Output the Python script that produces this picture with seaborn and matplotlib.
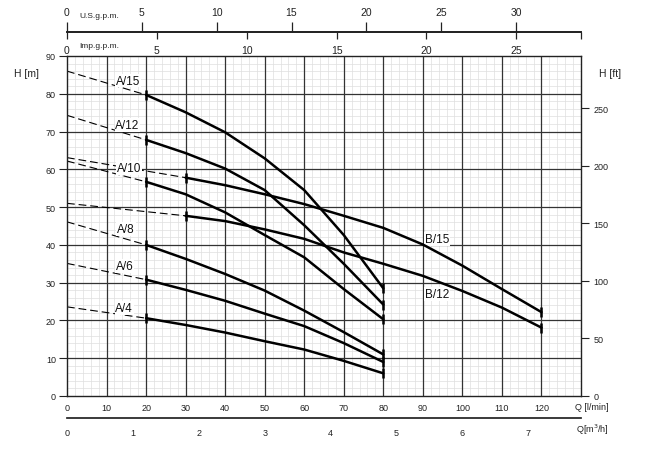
import matplotlib
matplotlib.use("Agg")
import matplotlib.pyplot as plt
import seaborn as sns
import pandas as pd
from matplotlib.ticker import MultipleLocator

sns.set_theme(style="white")
plt.rcParams['font.family'] = ['Liberation Sans', 'DejaVu Sans']

# ---------------- data ----------------
q_a = [20, 30, 40, 50, 60, 70, 80]          # l/min, A-series working range
h_a15 = [79.7, 75.1, 69.8, 62.9, 54.5, 42.6, 28.5]
h_a12 = [67.8, 64.3, 60.2, 54.5, 45.2, 35.0, 24.2]
h_a10 = [56.7, 53.4, 48.6, 42.6, 36.7, 28.3, 20.3]
h_a8 = [40.0, 36.3, 32.3, 27.9, 22.6, 16.9, 11.0]
h_a6 = [30.8, 28.1, 25.2, 21.8, 18.5, 14.0, 9.0]
h_a4 = [20.6, 18.8, 16.8, 14.5, 12.3, 9.3, 6.0]

q_b = [30, 40, 50, 60, 70, 80, 90, 100, 110, 120]  # l/min, B-series working range
h_b15 = [57.8, 55.8, 53.4, 50.8, 47.7, 44.5, 40.1, 34.5, 28.3, 22.2]
h_b12 = [47.7, 46.3, 44.1, 41.6, 38.0, 35.0, 31.8, 27.8, 23.4, 18.1]

curve_names = ["A/15", "A/12", "A/10", "A/8", "A/6", "A/4", "B/15", "B/12"]
shutoff_h = [86.0, 74.3, 62.2, 46.1, 35.1, 23.6, 63.1, 51.0]   # head at Q = 0 (dashed part)

x_ticks = [0, 10, 20, 30, 40, 50, 60, 70, 80, 90, 100, 110, 120]
y_ticks_m = [0, 10, 20, 30, 40, 50, 60, 70, 80, 90]
y_ticks_ft = [0, 50, 100, 150, 200, 250]
usgpm_ticks = [0, 5, 10, 15, 20, 25, 30]
impgpm_ticks = [0, 5, 10, 15, 20, 25]
m3h_ticks = [0, 1, 2, 3, 4, 5, 6, 7]

curves_q = [q_a, q_a, q_a, q_a, q_a, q_a, q_b, q_b]
curves_h = [h_a15, h_a12, h_a10, h_a8, h_a6, h_a4, h_b15, h_b12]

# curve label anchor positions (l/min, m)
label_q = [15.4, 15.3, 15.6, 14.9, 14.6, 14.5, 93.6, 93.6]
label_h = [83.5, 71.8, 60.3, 44.2, 34.4, 23.3, 41.6, 27.0]

QMAX = 130
USGAL = 3.78541
IMPGAL = 4.54609
FT = 3.28084

# ---------------- tables ----------------
solid = pd.DataFrame([
    {"curve": n, "Q": q, "H": h}
    for n, qs, hs in zip(curve_names, curves_q, curves_h)
    for q, h in zip(qs, hs)
])
dashed = pd.DataFrame(
    [{"curve": n, "Q": 0, "H": h0} for n, h0 in zip(curve_names, shutoff_h)] +
    [{"curve": n, "Q": qs[0], "H": hs[0]} for n, qs, hs in zip(curve_names, curves_q, curves_h)]
)
ends = pd.DataFrame(
    [{"curve": n, "Q": qs[0], "H": hs[0]} for n, qs, hs in zip(curve_names, curves_q, curves_h)] +
    [{"curve": n, "Q": qs[-1], "H": hs[-1]} for n, qs, hs in zip(curve_names, curves_q, curves_h)]
)
black = {n: "black" for n in curve_names}

# ---------------- figure ----------------
W, H = 646, 464
fig = plt.figure(figsize=(W / 100, H / 100), dpi=100)
L, R, B, T = 67, 581, 397, 57
ax = fig.add_axes([L / W, 1 - B / H, (R - L) / W, (B - T) / H])
ax.set_xlim(0, QMAX)
ax.set_ylim(0, 90)

ax.set_xticks([0, 10, 20, 30, 40, 50, 60, 70, 80, 90, 100, 110, 120, 130])
ax.set_xticklabels([str(v) for v in x_ticks] + [""])
ax.set_yticks(y_ticks_m)
ax.xaxis.set_minor_locator(MultipleLocator(2))
ax.yaxis.set_minor_locator(MultipleLocator(2))
# light minor grid via the axis, dark major grid drawn above it
ax.grid(which="minor", color="#dedede", lw=0.5, linestyle="-")
ax.grid(which="major", visible=False)
ax.set_axisbelow(True)
for xv in x_ticks[1:]:
    ax.axvline(xv, color="#333333", lw=0.9, zorder=1.5)
for yv in y_ticks_m[1:-1]:
    ax.axhline(yv, color="#333333", lw=0.9, zorder=1.5)

ax.tick_params(axis="x", which="both", length=0, pad=5, labelsize=6.5, labelcolor="#222")
ax.tick_params(axis="y", which="major", length=6, width=0.8, direction="out",
               pad=2, labelsize=6.5, labelcolor="#222", left=True, color="#222")
ax.tick_params(axis="y", which="minor", length=0)
for s in ax.spines.values():
    s.set_color("#222")
    s.set_linewidth(1.0)
    s.set_zorder(6)

sns.lineplot(data=dashed, x="Q", y="H", hue="curve", palette=black, estimator=None,
             sort=False, legend=False, ax=ax, lw=0.8, linestyle=(0, (7, 3.5)), zorder=2)
sns.lineplot(data=solid, x="Q", y="H", hue="curve", palette=black, estimator=None,
             sort=False, legend=False, ax=ax, lw=1.8, zorder=4)
sns.scatterplot(data=ends, x="Q", y="H", color="black", marker="|", s=45,
                linewidth=1.8, legend=False, ax=ax, zorder=5)
ax.set_xlabel("")
ax.set_ylabel("")

for n, lq, lh in zip(curve_names, label_q, label_h):
    ax.text(lq, lh, n, ha="center", va="center", fontsize=8.5, color="#111", zorder=2.5,
            bbox=dict(facecolor="white", edgecolor="none", pad=0.6))

# right axis in feet
rax = ax.twinx()
rax.set_ylim(0, 90 * FT)
rax.set_yticks(y_ticks_ft)
rax.grid(False)
rax.tick_params(axis="y", length=6, width=0.8, direction="out", pad=3,
                labelsize=6.5, labelcolor="#222", right=True, color="#222")
for s in rax.spines.values():
    s.set_visible(False)

narrow = ['Liberation Sans Narrow', 'Liberation Sans', 'DejaVu Sans']

# top scale line (US gpm above, Imp gpm below)
ytop = 33
tax = fig.add_axes([L / W, 1 - ytop / H, (R - L) / W, 1e-6])
tax.set_xlim(0, QMAX / USGAL)
tax.patch.set_visible(False)
for k, s in tax.spines.items():
    s.set_visible(k == "top")
tax.spines["top"].set_color("#222")
tax.yaxis.set_visible(False)
tax.xaxis.set_ticks_position("top")
tax.set_xticks(usgpm_ticks)
tax.set_xticklabels([str(v) for v in usgpm_ticks], fontfamily=narrow)
tax.tick_params(axis="x", length=7, width=0.9, direction="out", pad=4,
                labelsize=7.5, labelcolor="#222", color="#222")

iax = fig.add_axes([L / W, 1 - ytop / H, (R - L) / W, 1e-6], label="imp")
iax.set_xlim(0, QMAX / IMPGAL)
iax.patch.set_visible(False)
for k, s in iax.spines.items():
    s.set_visible(k == "bottom")
iax.spines["bottom"].set_color("#222")
iax.yaxis.set_visible(False)
iax.xaxis.set_ticks_position("bottom")
iax.set_xticks(impgpm_ticks + [QMAX / IMPGAL])
iax.set_xticklabels([str(v) for v in impgpm_ticks] + [""], fontfamily=narrow)
iax.tick_params(axis="x", length=5, width=0.9, direction="out", pad=4,
                labelsize=7.5, labelcolor="#222", color="#222")

# bottom scale line (m3/h)
ybot = 419
bax = fig.add_axes([L / W, 1 - ybot / H, (R - L) / W, 1e-6])
bax.set_xlim(0, QMAX * 60 / 1000)
bax.patch.set_visible(False)
for k, s in bax.spines.items():
    s.set_visible(k == "bottom")
bax.spines["bottom"].set_color("#222")
bax.yaxis.set_visible(False)
bax.set_xticks(m3h_ticks + [QMAX * 60 / 1000])
bax.set_xticklabels([str(v) for v in m3h_ticks] + [""])
bax.tick_params(axis="x", length=4, width=0.9, direction="out", pad=3,
                labelsize=6.5, labelcolor="#222", color="#222")

# axis titles
fig.text(79 / W, 1 - 17 / H, "U.S.g.p.m.", fontsize=6, va="center", ha="left",
         color="#222", family=narrow)
fig.text(79 / W, 1 - 47 / H, "Imp.g.p.m.", fontsize=6, va="center", ha="left",
         color="#222", family=narrow)
fig.text(26 / W, 1 - 74 / H, "H [m]", fontsize=7.5, va="center", ha="center", color="#222")
fig.text(610 / W, 1 - 74 / H, "H [ft]", fontsize=7.5, va="center", ha="center", color="#222")
fig.text(575 / W, 1 - 408 / H, "Q [l/min]", fontsize=6.5, va="center", ha="left", color="#222")
fig.text(576 / W, 1 - 430 / H, "Q[m$^3$/h]", fontsize=6.5, va="center", ha="left", color="#222")

fig.savefig("out.png", dpi=100, facecolor="white")
